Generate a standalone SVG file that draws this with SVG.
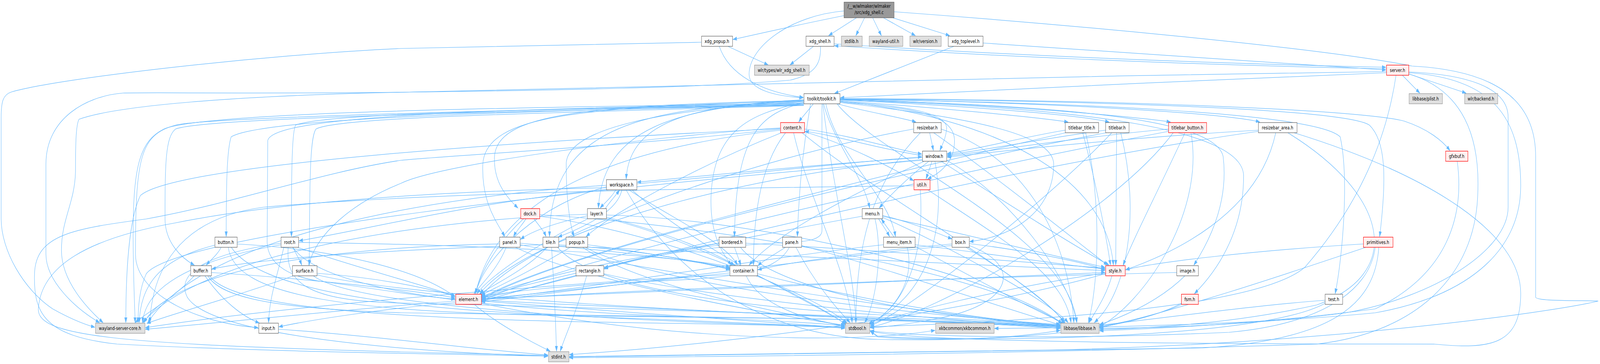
<svg xmlns="http://www.w3.org/2000/svg" width="5468" height="931" viewBox="0 0 5468 931">
<style>
.n rect{fill:#ffffff;stroke:#666666;stroke-width:1.3}
.g rect{fill:#e0e0e0;stroke:#999999;stroke-width:1.3}
.r rect{fill:#fff0f0;stroke:#ff0000;stroke-width:1.3}
.rt rect{fill:#999999;stroke:#666666;stroke-width:1.3}
text{font-family:"DejaVu Sans","Liberation Sans",sans-serif;font-size:13px;text-anchor:middle;fill:#000000}
#edges path{fill:none;stroke:#63b8ff;stroke-width:1.25;marker-end:url(#a)}
</style>
<defs>
<marker id="a" markerWidth="14" markerHeight="10" refX="13" refY="4.7" orient="auto" markerUnits="userSpaceOnUse"><path d="M0,0.4 L13,4.7 L0,9 z" fill="#63b8ff" stroke="#63b8ff" stroke-width="1"/></marker>
</defs>
<rect x="0" y="0" width="5468" height="931" fill="#ffffff"/>
<g id="diagram" transform="scale(0.74909,1)">
<g id="edges">
<path d="M2884,40 C2750,60 2600,85 2505,101"/>
<path d="M2928,45 L2832,91"/>
<path d="M2955,45 L2925,91"/>
<path d="M2982,45 L3012,91"/>
<path d="M3018,45 L3128,91"/>
<path d="M3049,45 L3245,91"/>
<path d="M2884,28 C2700,40 2560,120 2560,190 C2560,230 2650,246 2745,250"/>
<path d="M3055,30 C3600,60 4500,120 4826,169 C5100,180 5248,250 5248,400 L5248,760 C5248,772 5440,768 5462,770 C5300,800 4500,880 3600,895 C2900,905 2300,910 1946,912"/>
<path d="M4792,192 L4852,238"/>
<path d="M4814,189 L5010,238"/>
<path d="M4738,186 C4200,200 3300,235 2872,250"/>
<path d="M4738,176 C4000,165 3300,140 2852,117"/>
<path d="M2850,112 C3300,135 4000,160 4736,172"/>
<path d="M3359,110 C3800,130 4300,160 4736,179"/>
<path d="M4738,183 C3500,195 2000,225 1370,236 C900,240 500,236 420,238 C300,245 157,300 157,420 L157,650 C157,720 260,790 340,825"/>
<path d="M4771,192 C4740,350 4650,520 4460,683 C4300,790 3500,822 2974,836"/>
<path d="M4814,184 C5000,190 5154,220 5154,300 L5154,530 C5154,640 4900,760 4600,800 C4300,830 4000,838 3758,840"/>
<path d="M4814,189 C5000,230 5060,350 5050,500 C5040,700 4850,850 4500,880 C3500,905 2500,912 1946,915"/>
<path d="M4814,186 C5100,200 5197,300 5197,475 C5197,650 5000,760 4700,800 C4300,830 3700,839 3399,840"/>
<path d="M2860,265 C2950,285 3080,300 3130,312"/>
<path d="M2870,258 C3200,275 3550,300 3650,312"/>
<path d="M2870,256 C3300,270 3700,295 3790,312"/>
<path d="M2870,254 C3400,265 3900,300 4000,312"/>
<path d="M2870,253 C3600,262 4200,290 4305,312"/>
<path d="M2870,252 C3800,255 4650,280 4800,310 C4880,330 4930,360 4955,385"/>
<path d="M2870,253 C3800,258 4600,280 4680,320 C4735,360 4740,450 4715,605"/>
<path d="M2870,254 C3700,262 4500,290 4580,350 C4610,450 4590,650 4563,751"/>
<path d="M2870,255 C3600,270 4150,300 4180,400 C4200,520 4130,620 4080,678"/>
<path d="M2870,256 C3600,272 4250,320 4250,450 C4250,600 4150,700 4082,751"/>
<path d="M2870,260 C3100,270 3240,290 3235,330 C3232,355 3220,370 3212,385"/>
<path d="M2870,262 C3150,275 3262,300 3262,360 C3262,410 3220,440 3170,458"/>
<path d="M2815,265 C2840,350 2950,450 2972,532"/>
<path d="M2822,265 C2860,400 3040,500 3060,605"/>
<path d="M2870,262 C3300,300 3600,340 3601,420 C3601,520 3500,600 3314,618"/>
<path d="M2870,259 C3400,300 3780,450 3805,678"/>
<path d="M2860,265 C3000,400 3650,600 3680,825"/>
<path d="M2812,265 C2850,500 2920,700 2925,825"/>
<path d="M2780,265 C2760,285 2740,300 2730,312"/>
<path d="M2747,255 C2400,270 2150,300 2140,458"/>
<path d="M2747,256 C2300,275 2060,330 2045,532"/>
<path d="M2747,257 C2000,270 1700,290 1690,400 C1685,470 1740,510 1770,532"/>
<path d="M2747,258 C2000,275 1660,290 1650,420 C1645,520 1700,570 1725,605"/>
<path d="M2747,259 C2200,275 1880,320 1878,605"/>
<path d="M2747,260 C2250,280 1935,330 1935,420 C1935,520 1950,580 1962,605"/>
<path d="M2750,262 C2600,290 2515,340 2510,605"/>
<path d="M2770,265 C2740,400 2730,500 2725,605"/>
<path d="M2750,262 C2550,290 2440,340 2430,500 C2425,600 2470,650 2500,678"/>
<path d="M2809,265 L2809,590 C2809,612 2760,618 2700,620 C2400,630 2150,660 2065,688"/>
<path d="M2747,263 C1800,280 930,290 915,360 L913,620 C915,680 1000,710 1100,720 C1300,740 1450,760 1555,765"/>
<path d="M2747,264 C1800,275 700,285 560,330 C480,360 455,420 455,600 C455,700 460,780 462,825"/>
<path d="M2747,266 C1800,280 700,300 600,320 C480,345 463,400 463,650 C463,760 700,830 882,838"/>
<path d="M2747,267 C1800,285 900,300 790,350 C777,380 773,450 773,605"/>
<path d="M2747,268 C1800,280 1100,290 1010,320 C997,340 996,450 996,605"/>
<path d="M2747,269 C1800,285 700,300 600,330 C565,350 564,420 564,560 C564,620 620,660 664,678"/>
<path d="M2747,270 C1800,290 1150,300 1080,330 C1060,350 1058,450 1057,678"/>
<path d="M2749,330 C2900,345 3050,380 3150,394"/>
<path d="M3152,398 C3000,380 2850,345 2751,336"/>
<path d="M2749,337 C2900,370 3050,430 3122,462"/>
<path d="M2685,339 C2600,420 2575,550 2575,678"/>
<path d="M2667,327 C2200,350 1500,420 1370,469 C1200,520 1080,600 1055,678"/>
<path d="M2672,339 C2400,420 2100,540 2003,605"/>
<path d="M2667,333 C2100,380 1700,500 1625,751"/>
<path d="M2667,329 C1800,360 600,420 480,500 C440,560 430,700 430,825"/>
<path d="M2667,330 C2200,370 1500,400 1370,410 C1100,440 800,520 500,560 C250,585 122,600 118,700 C114,800 150,860 400,880 C900,900 1500,905 1872,911"/>
<path d="M2712,339 C2760,500 2900,700 2912,825"/>
<path d="M2740,339 C3000,500 3500,700 3640,825"/>
<path d="M3185,412 C3178,430 3170,445 3165,458"/>
<path d="M3175,412 C3110,450 3040,500 3005,532"/>
<path d="M3152,403 C2800,420 2400,450 2178,466"/>
<path d="M2176,470 C2500,450 2900,415 3150,401"/>
<path d="M3152,408 C2500,450 1800,600 1640,751"/>
<path d="M3160,412 C2900,500 2650,600 2560,678"/>
<path d="M3215,412 C3400,500 3650,620 3790,678"/>
<path d="M3195,412 C3230,550 3200,750 2968,828"/>
<path d="M3235,410 C3450,500 3650,700 3680,825"/>
<path d="M3152,410 C2000,480 600,600 500,700 C475,740 472,790 472,825"/>
<path d="M3177,339 L3190,385"/>
<path d="M3146,339 C3000,450 2925,600 2925,825"/>
<path d="M3190,339 C3400,450 3650,600 3785,678"/>
<path d="M3216,330 C3500,400 3650,600 3670,825"/>
<path d="M3122,330 C2600,400 1800,600 1645,758"/>
<path d="M3640,333 C3500,350 3350,380 3237,393"/>
<path d="M3700,339 C3740,450 3780,600 3795,678"/>
<path d="M3710,339 C3760,500 3760,700 3720,825"/>
<path d="M3645,339 C3000,450 1900,650 1645,763"/>
<path d="M3778,333 C3600,350 3400,380 3237,396"/>
<path d="M3816,339 C3815,450 3814,550 3813,678"/>
<path d="M3830,339 C3900,550 3850,750 3740,825"/>
<path d="M3785,339 C3000,450 1900,650 1645,766"/>
<path d="M3800,339 C3600,500 3100,800 2974,833"/>
<path d="M3993,330 C3700,350 3400,385 3237,399"/>
<path d="M4050,339 C3950,500 3880,600 3838,678"/>
<path d="M4070,339 C4120,550 3900,780 3758,835"/>
<path d="M3993,336 C3200,450 2000,650 1645,769"/>
<path d="M4010,339 C3800,550 3200,800 2974,837"/>
<path d="M4300,333 C3900,350 3500,380 3237,402"/>
<path d="M4360,339 C4300,550 4000,650 3847,690"/>
<path d="M4400,339 C4750,500 4800,700 4500,780 C4200,830 3900,840 3758,843"/>
<path d="M4300,336 C3500,420 2200,650 1645,771"/>
<path d="M4420,339 C4900,450 5197,600 5197,750 C5197,880 5100,895 4900,880 C4500,880 3100,880 2974,846"/>
<path d="M4980,412 C5005,550 4950,700 4700,790 C4300,830 3900,842 3758,846"/>
<path d="M2104,486 C2090,505 2065,520 2051,532"/>
<path d="M2069,533 C2085,515 2105,500 2117,486"/>
<path d="M2125,486 C2110,540 2000,580 1908,606"/>
<path d="M2150,486 C2300,560 2480,620 2520,678"/>
<path d="M2072,478 C1850,520 1660,650 1625,751"/>
<path d="M2140,486 C2300,700 2600,860 3000,868 C3400,875 3580,850 3623,845"/>
<path d="M2160,486 C2400,650 2800,780 2890,829"/>
<path d="M2072,474 C1500,500 700,600 505,825"/>
<path d="M2072,480 C1600,488 1000,510 600,570 C300,610 140,680 131,790 C125,860 400,880 1370,900 C1600,905 1750,908 1872,909"/>
<path d="M2072,484 C1600,520 1300,580 1022,616"/>
<path d="M3145,485 C3160,650 3100,780 2970,829"/>
<path d="M3170,485 C3400,600 3640,700 3660,825"/>
<path d="M3123,475 C2500,481 1500,490 900,530 C600,560 520,700 512,825"/>
<path d="M1798,559 C1785,575 1765,590 1755,605"/>
<path d="M1824,559 C1840,575 1858,590 1866,605"/>
<path d="M1790,559 C1700,620 1640,700 1625,751"/>
<path d="M1844,549 C2500,580 3400,700 3630,829"/>
<path d="M1844,553 C2300,600 2800,760 2895,827"/>
<path d="M2007,552 C1900,570 1820,590 1779,612"/>
<path d="M2010,559 C1850,620 1680,700 1630,751"/>
<path d="M2072,555 C2300,600 2450,650 2510,678"/>
<path d="M2072,550 C2600,560 3400,700 3630,827"/>
<path d="M2007,548 C1500,560 700,640 488,825"/>
<path d="M2072,558 C2400,620 2800,780 2893,831"/>
<path d="M3016,551 C3120,570 3200,595 3253,611"/>
<path d="M3002,559 C3015,575 3030,590 3040,605"/>
<path d="M3055,606 C3040,590 3025,575 3012,560"/>
<path d="M2946,553 C2600,600 1900,700 1645,761"/>
<path d="M3016,553 C3300,600 3650,660 3776,684"/>
<path d="M3016,556 C3300,650 3600,780 3650,825"/>
<path d="M2990,559 C3020,650 2990,780 2955,825"/>
<path d="M3019,626 C2600,660 2000,740 1645,767"/>
<path d="M3127,626 C3400,650 3650,680 3776,688"/>
<path d="M3127,630 C3300,700 3550,800 3640,827"/>
<path d="M3100,632 C3130,720 3050,800 2968,830"/>
<path d="M3253,624 C3000,640 2700,670 2590,690"/>
<path d="M3253,628 C2800,660 2000,740 1645,772"/>
<path d="M3312,623 C3500,640 3700,670 3776,690"/>
<path d="M3312,628 C3500,680 3460,780 3200,815 C3100,830 3030,836 2974,838"/>
<path d="M3300,632 C3450,700 3600,780 3635,825"/>
<path d="M756,632 C745,650 720,665 705,678"/>
<path d="M734,627 C560,660 480,720 476,825"/>
<path d="M810,624 C1200,640 1450,700 1555,759"/>
<path d="M780,632 C800,760 1200,800 2000,808 C2800,815 3400,820 3623,836"/>
<path d="M790,632 C900,760 1500,800 2200,815 C2600,826 2800,834 2887,837"/>
<path d="M970,632 C950,700 920,760 918,825"/>
<path d="M1000,632 C1012,650 1025,665 1031,678"/>
<path d="M1015,632 C1200,680 1450,730 1555,757"/>
<path d="M1020,620 C1600,625 2300,650 2494,683"/>
<path d="M960,626 C700,660 500,720 487,825"/>
<path d="M960,622 C700,650 600,700 640,760 C720,860 1400,900 1872,911"/>
<path d="M985,632 C975,720 1040,770 1370,775 C2200,790 3300,815 3623,835"/>
<path d="M1000,632 C1100,740 1600,790 2400,812 C2700,822 2850,830 2887,834"/>
<path d="M1730,632 C1700,690 1640,730 1620,751"/>
<path d="M1777,622 C2100,640 2400,670 2494,686"/>
<path d="M1777,626 C2300,700 3200,810 3623,832"/>
<path d="M1707,624 C1200,630 600,680 492,825"/>
<path d="M1760,632 C2000,720 2600,800 2887,832"/>
<path d="M1870,632 C1800,690 1680,730 1640,752"/>
<path d="M1909,626 C2200,640 2400,670 2494,688"/>
<path d="M1855,626 C1300,640 900,660 724,688"/>
<path d="M1885,632 C1895,750 1900,850 1902,898"/>
<path d="M1905,632 C2000,720 2400,780 3000,805 C3300,815 3500,826 3623,834"/>
<path d="M1909,629 C2600,650 3400,680 3776,692"/>
<path d="M1950,632 C1800,700 1680,740 1645,755"/>
<path d="M2008,626 C2200,645 2400,670 2494,690"/>
<path d="M2000,632 C2200,720 3000,800 3623,830"/>
<path d="M1990,632 C2200,740 2700,800 2887,835"/>
<path d="M2457,622 C2300,640 2150,665 2065,685"/>
<path d="M2510,632 C2518,650 2526,665 2532,678"/>
<path d="M2457,627 C2100,660 1800,720 1645,758"/>
<path d="M2530,632 C2620,720 3000,800 3623,833"/>
<path d="M2548,622 C3000,640 3500,670 3776,686"/>
<path d="M2685,632 C2650,650 2610,665 2590,680"/>
<path d="M2698,632 C2650,700 2500,712 2200,720 C1900,730 1700,750 1645,760"/>
<path d="M2739,628 C3000,680 3400,780 3623,831"/>
<path d="M2720,632 C2780,720 2860,790 2905,825"/>
<path d="M4659,624 C4300,640 3950,670 3847,690"/>
<path d="M4670,632 C4400,700 4000,800 3758,838"/>
<path d="M4700,632 C4680,750 4500,830 4200,850 C3600,870 3100,860 2974,846"/>
<path d="M4712,632 C4700,780 4550,870 4110,890 C3000,905 2300,912 1946,913"/>
<path d="M664,705 C600,760 500,800 462,825"/>
<path d="M700,705 C760,770 830,810 886,826"/>
<path d="M722,697 C1000,710 1400,740 1555,762"/>
<path d="M710,705 C760,770 1000,790 1370,800 C2400,810 3300,818 3623,840"/>
<path d="M716,705 C800,800 1500,820 2400,828 C2700,832 2850,836 2887,840"/>
<path d="M1005,705 C800,760 600,800 502,827"/>
<path d="M1083,699 C1300,710 1480,740 1555,758"/>
<path d="M1083,703 C1400,760 2400,800 3623,835"/>
<path d="M1070,705 C1200,780 2000,820 2887,836"/>
<path d="M1975,705 C1800,740 1700,755 1647,762"/>
<path d="M2005,705 C1970,800 1930,860 1915,898"/>
<path d="M2063,700 C2400,760 3200,820 3623,837"/>
<path d="M2494,698 C2200,720 1800,755 1647,764"/>
<path d="M2588,700 C2900,760 3300,815 3623,832"/>
<path d="M2550,705 C2600,790 2800,826 2887,832"/>
<path d="M2494,703 C2000,720 1000,780 497,838"/>
<path d="M3800,705 C3780,760 3740,800 3722,825"/>
<path d="M3778,700 C3300,800 2500,880 1946,907"/>
<path d="M3778,698 C3400,740 3100,800 2974,828"/>
<path d="M4021,697 C3300,710 2200,740 1647,766"/>
<path d="M4050,705 C3950,780 3800,820 3758,830"/>
<path d="M1620,778 C1700,830 1830,880 1880,898"/>
<path d="M1557,770 C1200,790 700,830 497,842"/>
<path d="M1557,774 C1300,790 1050,820 953,836"/>
<path d="M1645,770 C2000,790 2600,825 2887,838"/>
<path d="M1645,768 C2200,790 3200,818 3623,840"/>
<path d="M1645,776 C2200,860 2700,870 2950,862 C3100,857 3150,850 3195,845"/>
<path d="M1645,764 C2500,740 3400,710 3776,697"/>
<path d="M4040,778 C3950,810 3800,830 3758,835"/>
<path d="M4037,776 C3800,870 3200,875 3000,862 C2990,856 2980,850 2974,847"/>
<path d="M4528,768 C4300,780 3900,820 3758,832"/>
<path d="M4528,776 C4300,870 3300,875 3000,860 C2990,855 2980,850 2974,846"/>
<path d="M951,842 C1300,860 1700,900 1872,908"/>
<path d="M2486,118 L2625,166"/>
<path d="M2458,118 C2490,190 2600,235 2745,249"/>
<path d="M2397,108 L1370,124 C900,140 200,200 40,235 C10,242 4,260 4,300 L4,560 C4,640 80,740 180,790 C240,815 290,830 324,837"/>
<path d="M2781,118 L2700,166"/>
<path d="M2804,118 C2806,160 2790,190 2700,205 C2400,225 1800,232 1370,236 C800,245 400,270 270,305 C260,320 258,360 258,440 C255,520 210,560 210,640 C210,720 300,790 352,825"/>
<path d="M3262,118 L2852,239"/>
</g>
<g id="n_root" class="rt"><rect x="2884.5" y="5.5" width="171" height="40"/><text x="2970" y="20.5">/__w/wlmaker/wlmaker</text><text x="2970" y="36">/src/xdg_shell.c</text></g>
<g id="n_xdg_popup" class="n"><rect x="2397.5" y="92.5" width="106" height="26"/><text x="2450" y="110">xdg_popup.h</text></g>
<g id="n_xdg_shell" class="n"><rect x="2754.5" y="92.5" width="96" height="26"/><text x="2802" y="110">xdg_shell.h</text></g>
<g id="n_stdlib" class="g"><rect x="2875.5" y="92.5" width="71" height="26"/><text x="2910" y="110">stdlib.h</text></g>
<g id="n_wayland_util" class="g"><rect x="2970.5" y="92.5" width="115" height="26"/><text x="3027" y="110">wayland-util.h</text></g>
<g id="n_wlr_version" class="g"><rect x="3109.5" y="92.5" width="107" height="26"/><text x="3162" y="110">wlr/version.h</text></g>
<g id="n_xdg_toplevel" class="n"><rect x="3240.5" y="92.5" width="119" height="26"/><text x="3300" y="110">xdg_toplevel.h</text></g>
<g id="n_wlr_xdg_shell" class="g"><rect x="2578.5" y="166.5" width="187" height="26"/><text x="2671" y="184">wlr/types/wlr_xdg_shell.h</text></g>
<g id="n_server" class="r"><rect x="4738.5" y="166.5" width="76" height="26"/><text x="4776" y="184">server.h</text></g>
<g id="n_toolkit" class="n"><rect x="2747.5" y="239.5" width="123" height="26"/><text x="2808" y="257">toolkit/toolkit.h</text></g>
<g id="n_plist" class="g"><rect x="4815.5" y="239.5" width="114" height="26"/><text x="4872" y="257">libbase/plist.h</text></g>
<g id="n_backend" class="g"><rect x="5005.5" y="239.5" width="113" height="26"/><text x="5061" y="257">wlr/backend.h</text></g>
<g id="n_content" class="r"><rect x="2667.5" y="313.5" width="82" height="26"/><text x="2708" y="331">content.h</text></g>
<g id="n_resizebar" class="n"><rect x="3122.5" y="313.5" width="94" height="26"/><text x="3169" y="331">resizebar.h</text></g>
<g id="n_titlebar_title" class="n"><rect x="3640.5" y="313.5" width="114" height="26"/><text x="3697" y="331">titlebar_title.h</text></g>
<g id="n_titlebar" class="n"><rect x="3778.5" y="313.5" width="80" height="26"/><text x="3818" y="331">titlebar.h</text></g>
<g id="n_titlebar_button" class="r"><rect x="3993.5" y="313.5" width="130" height="26"/><text x="4058" y="331">titlebar_button.h</text></g>
<g id="n_resizebar_area" class="n"><rect x="4300.5" y="313.5" width="132" height="26"/><text x="4366" y="331">resizebar_area.h</text></g>
<g id="n_window" class="n"><rect x="3152.5" y="386.5" width="83" height="26"/><text x="3193" y="404">window.h</text></g>
<g id="n_gfxbuf" class="r"><rect x="4940.5" y="386.5" width="76" height="26"/><text x="4978" y="404">gfxbuf.h</text></g>
<g id="n_workspace" class="n"><rect x="2072.5" y="459.5" width="104" height="26"/><text x="2124" y="477">workspace.h</text></g>
<g id="n_util" class="r"><rect x="3123.5" y="459.5" width="55" height="26"/><text x="3150" y="477">util.h</text></g>
<g id="n_dock" class="r"><rect x="1779.5" y="533.5" width="65" height="26"/><text x="1811" y="551">dock.h</text></g>
<g id="n_layer" class="n"><rect x="2007.5" y="533.5" width="65" height="26"/><text x="2039" y="551">layer.h</text></g>
<g id="n_menu" class="n"><rect x="2946.5" y="533.5" width="70" height="26"/><text x="2981" y="551">menu.h</text></g>
<g id="n_button" class="n"><rect x="734.5" y="606.5" width="76" height="26"/><text x="772" y="624">button.h</text></g>
<g id="n_root_h" class="n"><rect x="960.5" y="606.5" width="60" height="26"/><text x="990" y="624">root.h</text></g>
<g id="n_panel" class="n"><rect x="1707.5" y="606.5" width="70" height="26"/><text x="1742" y="624">panel.h</text></g>
<g id="n_tile" class="n"><rect x="1855.5" y="606.5" width="54" height="26"/><text x="1882" y="624">tile.h</text></g>
<g id="n_popup" class="n"><rect x="1934.5" y="606.5" width="74" height="26"/><text x="1971" y="624">popup.h</text></g>
<g id="n_bordered" class="n"><rect x="2457.5" y="606.5" width="91" height="26"/><text x="2502" y="624">bordered.h</text></g>
<g id="n_pane" class="n"><rect x="2674.5" y="606.5" width="65" height="26"/><text x="2706" y="624">pane.h</text></g>
<g id="n_menu_item" class="n"><rect x="3019.5" y="606.5" width="108" height="26"/><text x="3073" y="624">menu_item.h</text></g>
<g id="n_box" class="n"><rect x="3253.5" y="606.5" width="59" height="26"/><text x="3282" y="624">box.h</text></g>
<g id="n_primitives" class="r"><rect x="4659.5" y="606.5" width="101" height="26"/><text x="4709" y="624">primitives.h</text></g>
<g id="n_buffer" class="n"><rect x="651.5" y="679.5" width="71" height="26"/><text x="686" y="697">buffer.h</text></g>
<g id="n_surface" class="n"><rect x="999.5" y="679.5" width="84" height="26"/><text x="1041" y="697">surface.h</text></g>
<g id="n_rectangle" class="n"><rect x="1968.5" y="679.5" width="95" height="26"/><text x="2015" y="697">rectangle.h</text></g>
<g id="n_container" class="n"><rect x="2494.5" y="679.5" width="94" height="26"/><text x="2541" y="697">container.h</text></g>
<g id="n_style" class="r"><rect x="3778.5" y="679.5" width="67" height="26"/><text x="3811" y="697">style.h</text></g>
<g id="n_image" class="n"><rect x="4021.5" y="679.5" width="74" height="26"/><text x="4058" y="697">image.h</text></g>
<g id="n_element" class="r"><rect x="1557.5" y="752.5" width="88" height="26"/><text x="1601" y="770">element.h</text></g>
<g id="n_fsm" class="r"><rect x="4037.5" y="752.5" width="58" height="26"/><text x="4066" y="770">fsm.h</text></g>
<g id="n_test" class="n"><rect x="4528.5" y="752.5" width="60" height="26"/><text x="4558" y="770">test.h</text></g>
<g id="n_wayland_server_core" class="g"><rect x="326.5" y="826.5" width="169" height="26"/><text x="410" y="844">wayland-server-core.h</text></g>
<g id="n_input" class="n"><rect x="884.5" y="826.5" width="67" height="26"/><text x="917" y="844">input.h</text></g>
<g id="n_stdbool" class="g"><rect x="2889.5" y="826.5" width="83" height="26"/><text x="2930" y="844">stdbool.h</text></g>
<g id="n_xkbcommon" class="g"><rect x="3197.5" y="826.5" width="200" height="26"/><text x="3297" y="844">xkbcommon/xkbcommon.h</text></g>
<g id="n_libbase" class="g"><rect x="3625.5" y="826.5" width="131" height="26"/><text x="3690" y="844">libbase/libbase.h</text></g>
<g id="n_stdint" class="g"><rect x="1874.5" y="899.5" width="70" height="26"/><text x="1909" y="917">stdint.h</text></g>
</g>
</svg>
